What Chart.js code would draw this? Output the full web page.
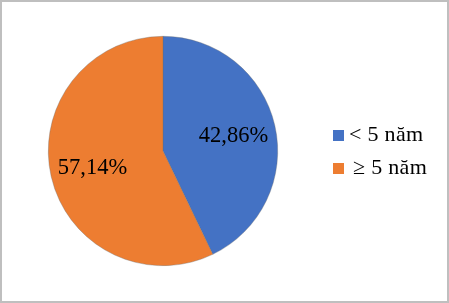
<!DOCTYPE html>
<html>
<head>
<meta charset="utf-8">
<script src="https://cdn.jsdelivr.net/npm/chart.js@4"></script>
<style>
html,body{margin:0;padding:0;background:#fff;}
#wrap{width:449px;height:303px;position:relative;}
</style>
</head>
<body>
<div id="wrap"><canvas id="c" width="449" height="303"></canvas></div>
<script>
const categories = ['< 5 năm', '≥ 5 năm'];
const values = [42.86, 57.14];
const valueLabels = ['42,86%', '57,14%'];
const colors = ['#4472C4', '#ED7D31'];

const overlay = {
  id: 'overlay',
  afterDraw(chart) {
    const ctx = chart.ctx;
    const meta = chart.getDatasetMeta(0);
    ctx.save();
    // data labels
    ctx.fillStyle = '#000';
    ctx.font = '22.5px "Liberation Serif"';
    ctx.textAlign = 'center';
    ctx.textBaseline = 'middle';
    meta.data.forEach((arc, i) => {
      const p = arc.getProps(['x','y','startAngle','endAngle','outerRadius'], true);
      const mid = (p.startAngle + p.endAngle) / 2;
      const r = p.outerRadius * 0.63;
      ctx.fillText(valueLabels[i], p.x + Math.cos(mid) * r, p.y + Math.sin(mid) * r + 1);
    });
    // legend
    ctx.font = '22px "Liberation Serif"';
    ctx.letterSpacing = '0.3px';
    ctx.textAlign = 'left';
    ctx.textBaseline = 'alphabetic';
    const ys = [130, 163];
    const xs = [349, 353];
    categories.forEach((c, i) => {
      ctx.fillStyle = colors[i];
      ctx.fillRect(333, ys[i], 11, 11);
      ctx.fillStyle = '#000';
      ctx.fillText(c, xs[i], ys[i] + 11);
    });
    ctx.letterSpacing = '0px';
    // frame
    ctx.strokeStyle = '#bfbfbf';
    ctx.lineWidth = 2;
    ctx.strokeRect(1, 1, 447, 301);
    ctx.restore();
  }
};

new Chart(document.getElementById('c'), {
  type: 'pie',
  data: {
    labels: categories,
    datasets: [{
      data: values,
      backgroundColor: colors,
      borderColor: 'rgba(110,110,110,0.6)',
      borderWidth: 0.6
    }]
  },
  options: {
    responsive: false,
    animation: false,
    layout: { padding: { left: 48, right: 171, top: 36, bottom: 37 } },
    plugins: { legend: { display: false }, tooltip: { enabled: false } }
  },
  plugins: [overlay]
});
</script>
</body>
</html>
